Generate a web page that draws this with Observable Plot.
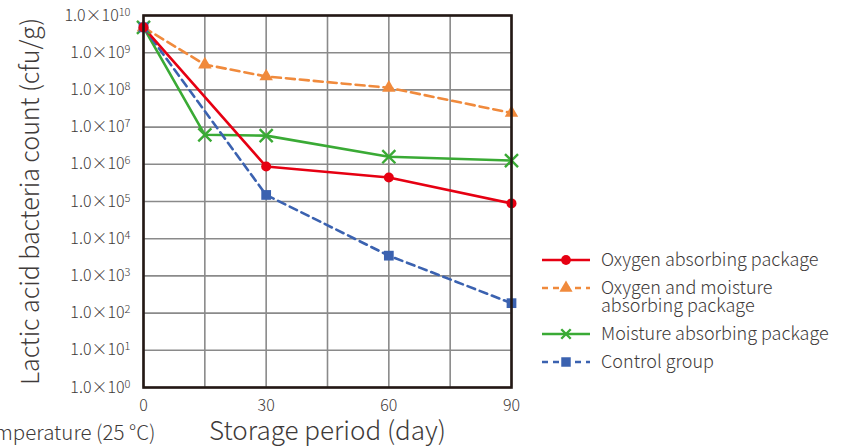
<!DOCTYPE html>
<html>
<head>
<meta charset="utf-8">
<script src="https://cdn.jsdelivr.net/npm/d3@7"></script>
<script src="https://cdn.jsdelivr.net/npm/@observablehq/plot@0.6"></script>
<style>
  html, body { margin: 0; padding: 0; background: #fff; }
  #wrap { position: relative; width: 845px; height: 447px; overflow: hidden; font-family: "Noto Sans CJK JP", "Noto Sans", sans-serif; font-weight: 300; color: #3e3a39; }
  #legend { position: absolute; left: 540px; top: 246px; font-size: 18px; line-height: 18px; }
  .item { position: relative; height: 28px; }
  .item svg { position: absolute; left: 0; top: 0; }
  .item span { position: absolute; left: 61px; white-space: nowrap; }
</style>
</head>
<body>
<div id="wrap"></div>
<script>
// ---- data ----
const days = [0, 15, 30, 60, 90];
const seriesNames = ["Oxygen absorbing package", "Oxygen and moisture absorbing package", "Moisture absorbing package", "Control group"];
const oxygenAbsorbing = [4.8e9, null, 8.7e5, 4.4e5, 8.9e4];
const oxygenMoistureAbsorbing = [4.8e9, 4.8e8, 2.3e8, 1.14e8, 2.4e7];
const moistureAbsorbing = [4.8e9, 6.2e6, 5.9e6, 1.6e6, 1.26e6];
const controlGroup = [4.8e9, null, 1.5e5, 3.5e3, 1.85e2];
const yExponents = [0, 1, 2, 3, 4, 5, 6, 7, 8, 9, 10];
const xTicks = [0, 30, 60, 90];
const xGrid = [0, 15, 30, 45, 60, 75, 90];
const yLabel = "Lactic acid bacteria count (cfu/g)";
const xLabel = "Storage period (day)";
const note = "Storage temperature (25 °C)";

// ---- styles ----
const styles = {
  "Oxygen absorbing package": {color: "#e60012", dash: null, symbol: "circle", r: 5, fill: true},
  "Oxygen and moisture absorbing package": {color: "#f08a3c", dash: "9,5", symbol: "triangle", r: 5, fill: true},
  "Moisture absorbing package": {color: "#3aaa35", dash: null, symbol: "times", r: 6, fill: false},
  "Control group": {color: "#3b62b0", dash: "8,5", symbol: "square", r: 5.5, fill: true}
};
const legendLines = {
  "Oxygen and moisture absorbing package": ["Oxygen and moisture", "absorbing package"]
};

const valuesBySeries = [oxygenAbsorbing, oxygenMoistureAbsorbing, moistureAbsorbing, controlGroup];
const rows = [];
seriesNames.forEach((name, i) => {
  valuesBySeries[i].forEach((v, j) => { if (v != null) rows.push({series: name, day: days[j], value: v}); });
});

const fontFamily = '"Noto Sans CJK JP", "Noto Sans", sans-serif';
const drawOrder = ["Moisture absorbing package", "Oxygen and moisture absorbing package", "Control group", "Oxygen absorbing package"];
const marks = [];
marks.push(Plot.ruleX(xGrid, {x: d => d, stroke: "#8a8a8a", strokeWidth: 1.6}));
marks.push(Plot.ruleY(yExponents.map(e => 10 ** e), {y: d => d, stroke: "#8a8a8a", strokeWidth: 1.6}));
for (const name of drawOrder) {
  const s = styles[name];
  const data = rows.filter(d => d.series === name);
  marks.push(Plot.line(data, {x: "day", y: "value", stroke: s.color, strokeWidth: 2.6, strokeDasharray: s.dash}));
}
for (const name of drawOrder) {
  const s = styles[name];
  const data = rows.filter(d => d.series === name);
  marks.push(Plot.dot(data, {x: "day", y: "value", symbol: () => s.symbol, r: s.r,
    fill: s.fill ? s.color : "none", stroke: s.color, strokeWidth: s.fill ? 0 : 2.4}));
}
marks.push(Plot.frame({stroke: "#231815", strokeWidth: 2.6}));
marks.push(Plot.axisY(yExponents.map(e => 10 ** e), {tickSize: 0, tickPadding: 13, fontSize: 16, fill: "#3e3a39",
  tickFormat: d => "1.0×10^" + Math.round(Math.log10(d)), label: null}));
marks.push(Plot.axisX(xTicks, {tickSize: 0, tickPadding: 12, fontSize: 16, fill: "#3e3a39", label: null}));
marks.push(Plot.text([yLabel], {frameAnchor: "left", dx: -113, rotate: -90, textAnchor: "middle", lineAnchor: "middle", fontSize: 25, fill: "#3e3a39", text: d => d}));
marks.push(Plot.text([xLabel], {frameAnchor: "bottom", dy: 44.5, textAnchor: "middle", lineAnchor: "middle", fontSize: 26, fill: "#3e3a39", text: d => d}));
marks.push(Plot.text([note], {frameAnchor: "bottom-left", dx: 12, dy: 46, textAnchor: "end", lineAnchor: "middle", fontSize: 20.5, fill: "#3e3a39", text: d => d}));

const chart = Plot.plot({
  width: 845,
  height: 447,
  marginLeft: 143,
  marginRight: 334,
  marginTop: 15,
  marginBottom: 60,
  style: {fontFamily, fontWeight: 300, background: "transparent", overflow: "visible"},
  x: {domain: [0, 90]},
  y: {type: "log", domain: [1, 1e10]},
  marks
});

// superscript exponents on y tick labels
d3.select(chart).selectAll('[aria-label="y-axis tick label"] text').each(function () {
  const t = this.textContent;
  if (!t.includes("^")) return;
  const [base, exp] = t.split("^");
  const sel = d3.select(this);
  sel.text(null);
  sel.append("tspan").text(base);
  sel.append("tspan").attr("dy", "-0.45em").attr("font-size", "11px").text(exp);
});

const wrap = document.getElementById("wrap");
wrap.appendChild(chart);

// legend
const legend = document.createElement("div");
legend.id = "legend";
const rowHeights = {"Oxygen and moisture absorbing package": 46};
seriesNames.forEach(name => {
  const s = styles[name];
  const item = document.createElement("div");
  item.className = "item";
  item.style.height = (rowHeights[name] || 28) + "px";
  const sv = d3.create("svg").attr("width", 54).attr("height", 28);
  sv.append("line").attr("x1", 2).attr("x2", 50).attr("y1", 14).attr("y2", 14)
    .attr("stroke", s.color).attr("stroke-width", 2.6).attr("stroke-dasharray", s.dash ? "6,5" : null);
  const sym = {circle: d3.symbolCircle, triangle: d3.symbolTriangle, times: d3.symbolTimes, square: d3.symbolSquare}[s.symbol];
  const size = s.symbol === "times" ? 60 : (s.symbol === "square" ? 90 : 75);
  sv.append("path").attr("d", d3.symbol(sym, size)()).attr("transform", "translate(26,14)")
    .attr("fill", s.fill ? s.color : "none").attr("stroke", s.fill ? "none" : s.color).attr("stroke-width", 2.4);
  item.appendChild(sv.node());
  const lines = legendLines[name] || [name];
  lines.forEach((ln, k) => {
    const span = document.createElement("span");
    span.textContent = ln;
    span.style.top = (3 + k * 18) + "px";
    item.appendChild(span);
  });
  legend.appendChild(item);
});
wrap.appendChild(legend);
</script>
</body>
</html>
